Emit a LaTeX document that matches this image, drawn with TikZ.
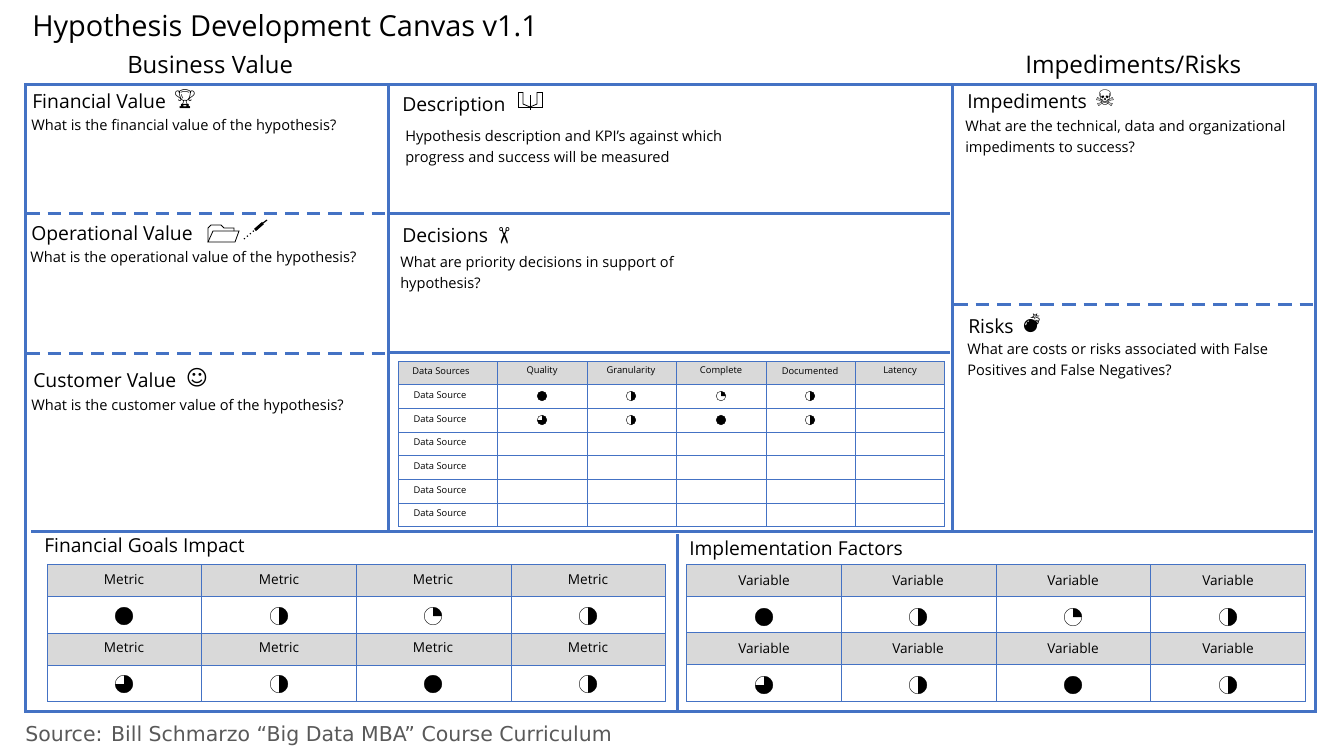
\documentclass[tikz,border=0pt]{standalone}
\usepackage{fontspec}
\setmainfont{Open Sans}
\newfontfamily\emofont{Noto Emoji}
\newfontfamily\djvfont{DejaVu Sans}
\definecolor{frameblue}{HTML}{4472C4}
\definecolor{hdrgray}{HTML}{D9D9D9}
\tikzset{
 x=0.75pt,y=-0.75pt,
 solidline/.style={draw=frameblue,line width=2.25pt},
 dashline/.style={draw=frameblue,line width=2.25pt,dash pattern=on 10.2pt off 6pt},
 gridline/.style={draw=frameblue,line width=0.7pt},
 hdr/.style={fill=hdrgray},
 txt/.style={inner sep=0pt,anchor=base west,text=black},
 body/.style={txt,font=\fontsize{10.95}{15.5}\selectfont,align=left},
 head/.style={txt,font=\fontsize{14.5}{18}\selectfont},
 sect/.style={txt,font=\fontsize{14.4}{18}\selectfont},
 cellt/.style={inner sep=0pt,font=\fontsize{10.2}{12}\selectfont},
 smallt/.style={inner sep=0pt,font=\fontsize{7}{8}\selectfont},
 icon/.style={inner sep=0pt,font=\emofont\fontsize{14}{15}\selectfont},
 iconline/.style={draw=black,line width=0.6pt},
}
\newcommand{\harvey}[4]{%
 \draw[line width=0.3pt] (#1,#2) circle[radius=#3*0.75pt];
 \fill (#1,#2) -- ++(0,-#3) arc[start angle=90,delta angle=-#4,radius=#3*0.75pt] -- cycle;
}
\begin{document}
\begin{tikzpicture}
\useasboundingbox (0,0) rectangle (1333,750);
\fill[white] (0,0) rectangle (1333,750);
% titles
\node[txt,font=\fontsize{21.7}{26}\selectfont] (title) at (32,36) {Hypothesis Development Canvas v1.1};
\node[txt,font=\fontsize{17.9}{22}\selectfont] (bv) at (127,73) {Business Value};
\node[txt,font=\fontsize{18.2}{22}\selectfont] (ir) at (1025,73) {Impediments/Risks};
% frame
\draw[solidline] (25,84) rectangle (1315,711);
\draw[solidline] (388,84) -- (388,531);
\draw[solidline] (952,84) -- (952,531);
\draw[solidline] (31,531) -- (1313,531);
\draw[solidline] (677,534) -- (677,711);
\draw[solidline] (388,213) -- (950,213);
\draw[solidline] (390,352) -- (950,352);
\draw[dashline] (26,213) -- (386,213);
\draw[dashline] (26,353) -- (386,353);
\draw[dashline] (954,304) -- (1313,304);
% left
\node[head] (fv) at (32,108) {Financial Value};
\node[icon] (fvi) at (185,99) {🏆};
\node[body] (fvq) at (31,130) {What is the financial value of the hypothesis?};
\node[head] (ov) at (31,240) {Operational Value};
% folder
\draw[iconline] (208,242) -- (208,228) -- (211,225) -- (221,225) -- (224,228) -- (234,228) -- (234,231);
\draw[iconline] (208,242) -- (235,242) -- (239,231) -- (213,231) -- cycle;
% pen
\draw[line width=0.9pt,dotted] (244,239) -- (257,228);
\draw[line width=2.2pt] (255,230) -- (263,223);
\draw[line width=0.9pt] (263,223) -- (267,220);
\node[body] (ovq) at (30,262) {What is the operational value of the hypothesis?};
\node[head] (cv) at (33,387) {Customer Value};
\node[inner sep=0pt,font=\djvfont\fontsize{16}{18}\selectfont] (cvi) at (197,378) {☺};
\node[body] (cvq) at (31,410) {What is the customer value of the hypothesis?};
% centre
\node[head] (de) at (402,111) {Description};
% book
\draw[iconline] (523,92) -- (518,92) -- (518,107) -- (530,107);
\draw[iconline] (523,92) -- (523,104) -- (530,107) -- (537,104) -- (537,92);
\draw[iconline] (537,92) -- (542,92) -- (542,107) -- (530,107);
\draw[iconline] (530,95) -- (530,110);
\node[body] (deq) at (405,162) {Hypothesis description and KPI's against which\\progress and success will be measured};
\node[head] (dc) at (402,242) {Decisions};
\node[inner sep=0pt,rotate=-90,font=\djvfont\fontsize{17}{18}\selectfont] (dci) at (503,236) {✂};
\node[body] (dcq) at (400,288) {What are priority decisions in support of\\hypothesis?};
% right
\node[head] (im) at (967,108) {Impediments};
\node[inner sep=0pt,font=\djvfont\fontsize{17}{18}\selectfont] (imi) at (1105,98) {☠};
\node[body] (imq) at (965,152) {What are the technical, data and organizational\\impediments to success?};
\node[head] (ri) at (968,333) {Risks};
\node[icon] (rii) at (1032,323) {💣};
\node[body] (riq) at (967,375) {What are costs or risks associated with False\\Positives and False Negatives?};
% data table
\fill[hdr] (398,361) rectangle (944,384);
\draw[gridline] (398,361) rectangle (944,526);
\foreach \y in {384,408,432,455,479,503} \draw[gridline] (398,\y) -- (944,\y);
\foreach \x in {497,587,676,766,855} \draw[gridline] (\x,361) -- (\x,526);
\foreach \c/\t in {441/Data Sources,542/Quality,631/Granularity,721/Complete,810/Documented,900/Latency}
 \node[smallt] at (\c,371) {\t};
\foreach \y in {395,419,442,466,490,513}
 \node[smallt] at (440,\y) {Data Source};
\harvey{542}{396}{4.8}{360}
\harvey{631}{396}{4.8}{180}
\harvey{721}{396}{4.8}{90}
\harvey{810}{396}{4.8}{180}
\harvey{542}{420}{4.8}{270}
\harvey{631}{420}{4.8}{180}
\harvey{721}{420}{4.8}{360}
\harvey{810}{420}{4.8}{180}
% goals table
\node[sect] (fg) at (44,552) {Financial Goals Impact};
\fill[hdr] (47,564) rectangle (665,596);
\fill[hdr] (47,633) rectangle (665,665);
\draw[gridline] (47,564) rectangle (665,701);
\foreach \y in {596,633,665} \draw[gridline] (47,\y) -- (665,\y);
\foreach \x in {201,356,511} \draw[gridline] (\x,564) -- (\x,701);
\foreach \c in {124,279,433,588}{
 \node[cellt] at (\c,579.5) {Metric};
 \node[cellt] at (\c,648) {Metric};
}
\harvey{124}{616}{8.8}{360}
\harvey{279}{616}{8.8}{180}
\harvey{433}{616}{8.8}{90}
\harvey{588}{616}{8.8}{180}
\harvey{124}{684}{8.8}{270}
\harvey{279}{684}{8.8}{180}
\harvey{433}{684}{8.8}{360}
\harvey{588}{684}{8.8}{180}
% implementation table
\node[sect] (imf) at (689,555) {Implementation Factors};
\fill[hdr] (686,564) rectangle (1305,596);
\fill[hdr] (686,632) rectangle (1305,664);
\draw[gridline] (686,564) rectangle (1305,701);
\foreach \y in {596,632,664} \draw[gridline] (686,\y) -- (1305,\y);
\foreach \x in {841,996,1150} \draw[gridline] (\x,564) -- (\x,701);
\foreach \c in {764,918,1073,1228}{
 \node[cellt] at (\c,580) {Variable};
 \node[cellt] at (\c,648) {Variable};
}
\harvey{764}{617}{8.8}{360}
\harvey{918}{617}{8.8}{180}
\harvey{1073}{617}{8.8}{90}
\harvey{1228}{617}{8.8}{180}
\harvey{764}{685}{8.8}{270}
\harvey{918}{685}{8.8}{180}
\harvey{1073}{685}{8.8}{360}
\harvey{1228}{685}{8.8}{180}
% source
\node[txt,text=black!65,font=\djvfont\fontsize{15.35}{18}\selectfont] (src) at (25,741) {Source: Bill Schmarzo “Big Data MBA” Course Curriculum};
\end{tikzpicture}
\end{document}
